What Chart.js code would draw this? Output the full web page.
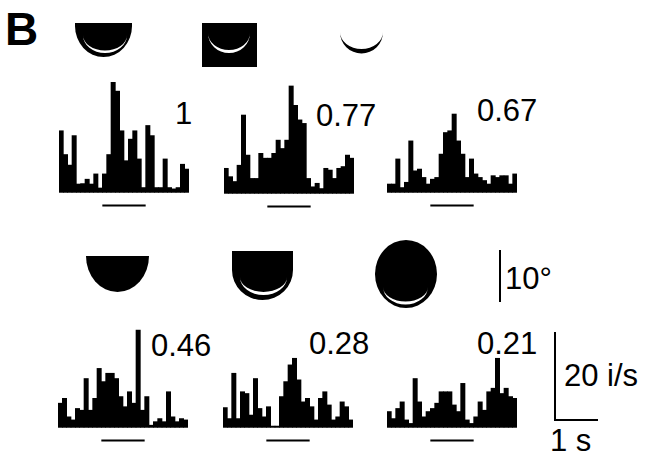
<!DOCTYPE html>
<html>
<head>
<meta charset="utf-8">
<script src="https://cdn.jsdelivr.net/npm/chart.js@4"></script>
<style>
  body { margin: 0; background: #fff; }
  #fig { position: relative; width: 648px; height: 458px; overflow: hidden; font-family: "Liberation Sans", Arial, sans-serif; }
  canvas { position: absolute; }
  .lbl { position: absolute; font-size: 31px; line-height: 30px; color: #000; white-space: nowrap; }
  svg { position: absolute; left: 0; top: 0; }
</style>
</head>
<body>
<div id="fig">
  <svg width="648" height="458">
    <!-- top row stimuli -->
    <path d="M75,23 H132 V26 A28.5 31 0 0 1 75,26 Z" fill="#000"/>
    <path d="M83,35 A22 18 0 0 0 127,35 A22 15.5 0 0 1 83,35 Z" fill="#fff"/>
    <rect x="202" y="23" width="55" height="44" fill="#000"/>
    <path d="M208,33 A21 20 0 0 0 250,33 A21 17 0 0 1 208,33 Z" fill="#fff"/>
    <path d="M340,32 A21.5 21.5 0 0 0 383,32 A21.5 17 0 0 1 340,32 Z" fill="#000"/>
    <!-- bottom row stimuli -->
    <path d="M86,256 H149 A31.5 36 0 0 1 86,256 Z" fill="#000"/>
    <path d="M232,251 H293 V270 A30.5 30 0 0 1 232,270 Z" fill="#000"/>
    <path d="M240,277 A23.5 18 0 0 0 287,277 A23.5 15 0 0 1 240,277 Z" fill="#fff"/>
    <ellipse cx="406" cy="274" rx="31" ry="34" fill="#000"/>
    <path d="M383,287 A22.5 17.5 0 0 0 428,287 A22.5 14.5 0 0 1 383,287 Z" fill="#fff"/>
    <!-- scale bars -->
    <line x1="500" y1="250" x2="500" y2="302" stroke="#000" stroke-width="2"/>
    <line x1="555" y1="332" x2="555" y2="421" stroke="#000" stroke-width="2"/>
    <line x1="554" y1="420" x2="598" y2="420" stroke="#000" stroke-width="2"/>
  </svg>
  <div class="lbl" style="left:5px;top:6px;font-size:46px;line-height:46px;font-weight:bold;">B</div>
  <div class="lbl" style="left:175px;top:99px;">1</div>
  <div class="lbl" style="left:316px;top:101px;">0.77</div>
  <div class="lbl" style="left:477px;top:96px;">0.67</div>
  <div class="lbl" style="left:151px;top:331px;">0.46</div>
  <div class="lbl" style="left:309px;top:329px;">0.28</div>
  <div class="lbl" style="left:477px;top:329px;">0.21</div>
  <div class="lbl" style="left:505px;top:264px;">10°</div>
  <div class="lbl" style="left:564px;top:361px;">20 i/s</div>
  <div class="lbl" style="left:550px;top:426px;">1 s</div>
</div>
<script>
// 30 bins of 100 ms, firing rate in spikes/s
const bins = Array.from({length: 30}, (_, i) => i);
const stimOn = 9.5;   // stimulus bar from bin 10 ...
const stimOff = 19.5; // ... to end of bin 19

const rate1 = [14.0, 8.6, 6.2, 12.9, 1.9, 2.0, 3.0, 1.9, 4.2, 1.0, 4.2, 8.6, 25.0, 23.0, 14.0,
               7.2, 12.1, 14.0, 7.6, 1.1, 15.2, 12.9, 1.1, 1.1, 7.6, 1.1, 0.8, 1.1, 6.4, 5.3];
const rate2 = [5.7, 3.8, 2.7, 6.4, 17.8, 8.7, 3.4, 3.4, 9.1, 8.0, 8.0, 9.1, 12.1, 10.2, 12.1,
               24.4, 20.0, 16.7, 15.9, 3.4, 1.5, 2.3, 1.1, 5.7, 5.3, 3.4, 5.7, 6.1, 8.7, 8.0];
const rate3 = [1.9, 1.9, 7.6, 1.1, 2.3, 11.7, 4.9, 5.3, 3.4, 1.9, 3.0, 3.4, 8.7, 13.6, 14.0,
               17.8, 11.7, 8.7, 3.4, 7.6, 4.2, 3.4, 2.7, 1.9, 3.8, 3.4, 3.8, 3.8, 1.9, 4.2];
const rate4 = [5.5, 6.6, 2.4, 1.7, 4.3, 3.9, 11.1, 3.9, 6.6, 13.4, 10.4, 12.3, 12.3, 11.1, 7.0,
               4.7, 8.1, 5.5, 22.1, 3.9, 7.0, 0.5, 1.3, 2.0, 1.3, 8.1, 2.4, 1.3, 2.0, 1.7];
const rate5 = [4.5, 2.0, 12.3, 2.0, 8.1, 7.7, 2.8, 11.1, 4.3, 2.4, 4.7, 0.3, 0.3, 7.0, 10.4,
               14.2, 15.7, 10.8, 5.8, 6.6, 4.7, 1.7, 6.6, 8.1, 5.1, 1.7, 2.4, 5.8, 4.7, 1.7];
const rate6 = [3.6, 2.0, 4.3, 5.8, 1.7, 0.9, 11.1, 5.8, 2.4, 3.6, 4.3, 5.5, 8.1, 8.1, 8.1,
               5.1, 3.6, 10.0, 1.7, 0.9, 2.4, 5.8, 3.9, 8.1, 8.9, 15.7, 7.7, 8.9, 7.0, 6.6];

const panels = [
  { data: rate1, left: 59,  top: 70 },
  { data: rate2, left: 224, top: 71 },
  { data: rate3, left: 387, top: 70 },
  { data: rate4, left: 58,  top: 305 },
  { data: rate5, left: 223, top: 305 },
  { data: rate6, left: 387, top: 305 }
];

// line under each histogram marking the stimulus period
const stimBar = {
  id: 'stimBar',
  afterDatasetsDraw(chart) {
    const x = chart.scales.x, y = chart.scales.y;
    const c = chart.ctx;
    const yy = Math.round(y.getPixelForValue(-2.8)) + 0.5;
    c.save();
    c.strokeStyle = '#000';
    c.lineWidth = 2;
    c.beginPath();
    c.moveTo(x.getPixelForValue(stimOn), yy);
    c.lineTo(x.getPixelForValue(stimOff), yy);
    c.stroke();
    c.restore();
  }
};

const fig = document.getElementById('fig');
panels.forEach(p => {
  const cv = document.createElement('canvas');
  cv.width = 130;
  cv.height = 140;
  cv.style.left = p.left + 'px';
  cv.style.top = p.top + 'px';
  fig.appendChild(cv);
  new Chart(cv.getContext('2d'), {
    type: 'bar',
    data: {
      labels: bins,
      datasets: [{
        data: p.data,
        backgroundColor: '#000',
        borderWidth: 0,
        barPercentage: 1,
        categoryPercentage: 1
      }]
    },
    options: {
      responsive: false,
      animation: false,
      layout: { padding: 0 },
      plugins: { legend: { display: false }, tooltip: { enabled: false } },
      scales: {
        x: { display: false },
        y: { display: false, min: -4, max: 27.8 }
      }
    },
    plugins: [stimBar]
  });
});
</script>
</body>
</html>
